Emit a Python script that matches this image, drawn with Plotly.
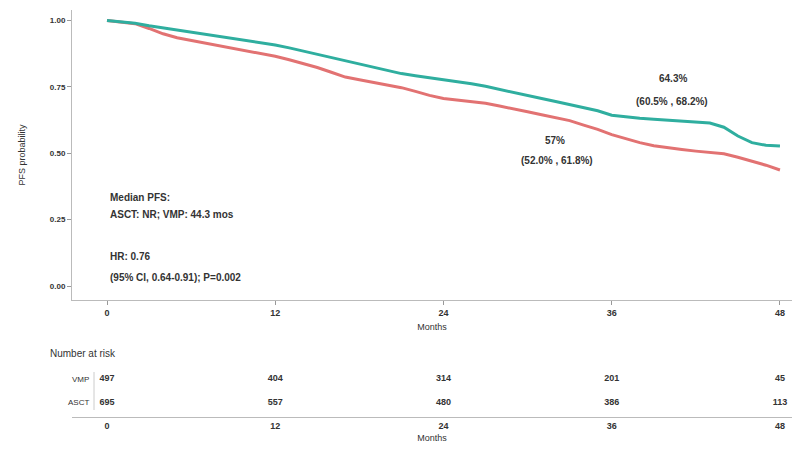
import plotly.graph_objects as go

# Kaplan-Meier progression-free survival estimates by month
months = list(range(0, 49))
asct_pfs = [1.000, 0.995, 0.990, 0.980, 0.972, 0.965, 0.958, 0.950, 0.942, 0.934,
            0.925, 0.916, 0.908, 0.897, 0.885, 0.872, 0.860, 0.848, 0.836, 0.824,
            0.812, 0.800, 0.792, 0.785, 0.778, 0.770, 0.762, 0.752, 0.740, 0.728,
            0.717, 0.706, 0.695, 0.684, 0.672, 0.660, 0.643, 0.637, 0.632, 0.628,
            0.624, 0.620, 0.617, 0.614, 0.598, 0.565, 0.540, 0.530, 0.527]
vmp_pfs = [1.000, 0.995, 0.988, 0.970, 0.950, 0.935, 0.925, 0.915, 0.905, 0.895,
           0.885, 0.875, 0.865, 0.852, 0.838, 0.823, 0.805, 0.787, 0.777, 0.767,
           0.757, 0.747, 0.733, 0.718, 0.706, 0.700, 0.695, 0.688, 0.678, 0.668,
           0.656, 0.645, 0.633, 0.623, 0.606, 0.590, 0.570, 0.555, 0.540, 0.528,
           0.520, 0.514, 0.508, 0.503, 0.498, 0.485, 0.470, 0.455, 0.437]

# Number at risk table
risk_times = [0, 12, 24, 36, 48]
risk_groups = ["VMP", "ASCT"]
risk_vmp = [497, 404, 314, 201, 45]
risk_asct = [695, 557, 480, 386, 113]
y_ticks = [0.0, 0.25, 0.5, 0.75, 1.0]
y_tick_labels = ["0.00", "0.25", "0.50", "0.75", "1.00"]

TEAL = "#2fae9f"
RED = "#e27272"
TXT = "#333333"
FONT = "Liberation Sans, Arial, sans-serif"

W, H = 812, 449


def px_x(p):
    return p / W


def px_y(p):
    return 1 - p / H


fig = go.Figure()

fig.add_trace(go.Scatter(x=months, y=vmp_pfs, mode="lines", line=dict(color=RED, width=3),
                         name="VMP", xaxis="x", yaxis="y"))
fig.add_trace(go.Scatter(x=months, y=asct_pfs, mode="lines", line=dict(color=TEAL, width=3),
                         name="ASCT", xaxis="x", yaxis="y"))

# risk table rows: VMP on top, ASCT below
for row, counts in zip([1, 0], [risk_vmp, risk_asct]):
    fig.add_trace(go.Scatter(x=risk_times, y=[row] * len(risk_times), mode="text",
                             text=[f"<b>{v}</b>" for v in counts],
                             textfont=dict(size=9, color=TXT, family=FONT),
                             xaxis="x2", yaxis="y2", showlegend=False, hoverinfo="skip"))

x_dom = [px_x(72), px_x(792)]
x_rng = [(72 - 107) / 14.02, (792 - 107) / 14.02]
bold_ticks = [f"<b>{t}</b>" for t in risk_times]

fig.update_layout(
    width=W, height=H,
    margin=dict(l=0, r=0, t=0, b=0),
    paper_bgcolor="white", plot_bgcolor="white",
    showlegend=False,
    font=dict(family=FONT, color=TXT, size=9),
    xaxis=dict(domain=x_dom, range=x_rng, anchor="y", tickvals=risk_times, ticktext=bold_ticks,
               ticks="outside", ticklen=4, tickcolor="#999", showline=True, linecolor="#bbb",
               showgrid=False, zeroline=False, tickfont=dict(size=9, color=TXT),
               title=dict(text="Months", font=dict(size=9, color=TXT), standoff=6)),
    yaxis=dict(domain=[px_y(300), px_y(10)], range=[(286 - 300) / 265.5, (286 - 10) / 265.5],
               anchor="x", tickvals=y_ticks, ticktext=[f"<b>{t}</b>" for t in y_tick_labels],
               ticks="outside", ticklen=4, tickcolor="#999", showline=True, linecolor="#bbb",
               showgrid=False, zeroline=False, tickfont=dict(size=8, color=TXT),
               title=dict(text="PFS probability", font=dict(size=9, color=TXT), standoff=22)),
    xaxis2=dict(domain=x_dom, range=x_rng, anchor="y2", tickvals=risk_times, ticktext=bold_ticks,
                ticks="", showline=True, linecolor="#bbb", showgrid=False, zeroline=False,
                tickfont=dict(size=9, color=TXT),
                title=dict(text="Months", font=dict(size=9, color=TXT), standoff=4)),
    yaxis2=dict(domain=[px_y(417), px_y(365)], range=[-0.6, 1.6], anchor="x2",
                showticklabels=False, ticks="", showline=False,
                showgrid=False, zeroline=False),
)

# group labels for the risk table, with a short divider
for row, g in zip([1, 0], risk_groups):
    fig.add_annotation(xref="paper", yref="y2", x=px_x(91), y=row, text=g, xanchor="right",
                       yanchor="middle", showarrow=False, font=dict(size=8, color=TXT, family=FONT))
fig.add_shape(type="line", xref="paper", yref="paper", x0=px_x(94), x1=px_x(94),
              y0=px_y(372), y1=px_y(410), line=dict(color="#ccc", width=1))

ann = [
    dict(x=px_x(108), y=px_y(198), text="<b>Median PFS:</b>", xanchor="left"),
    dict(x=px_x(108), y=px_y(214), text="<b>ASCT: NR; VMP: 44.3 mos</b>", xanchor="left"),
    dict(x=px_x(108), y=px_y(256), text="<b>HR: 0.76</b>", xanchor="left"),
    dict(x=px_x(108), y=px_y(277), text="<b>(95% CI, 0.64-0.91); P=0.002</b>", xanchor="left"),
    dict(x=px_x(673), y=px_y(78), text="<b>64.3%</b>", xanchor="center"),
    dict(x=px_x(672), y=px_y(101), text="<b>(60.5% , 68.2%)</b>", xanchor="center"),
    dict(x=px_x(555), y=px_y(140), text="<b>57%</b>", xanchor="center"),
    dict(x=px_x(557), y=px_y(160), text="<b>(52.0% , 61.8%)</b>", xanchor="center"),
    dict(x=px_x(48), y=px_y(353), text="Number at risk", xanchor="left"),
]
for a in ann:
    fig.add_annotation(xref="paper", yref="paper", yanchor="middle", showarrow=False,
                       font=dict(size=10, color=TXT, family=FONT), **a)

fig.write_html("out.html")
